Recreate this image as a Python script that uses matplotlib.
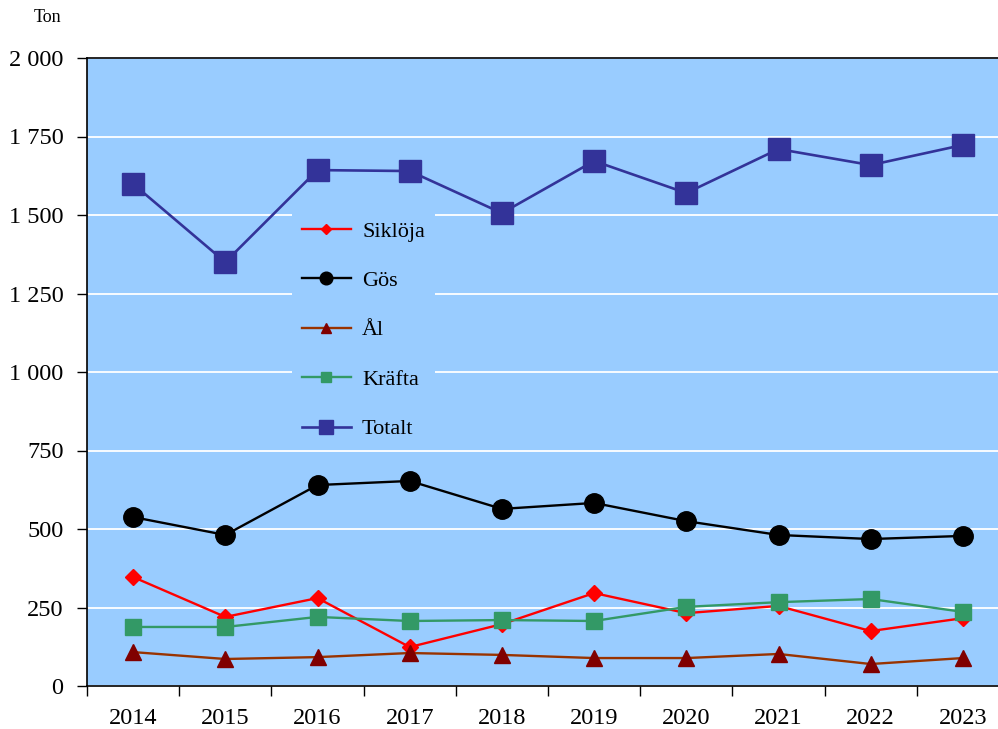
import matplotlib
matplotlib.use("Agg")
import matplotlib.pyplot as plt
import numpy as np

years = ["2014", "2015", "2016", "2017", "2018", "2019", "2020", "2021", "2022", "2023"]
sikloja = [347, 220, 280, 124, 197, 296, 232, 255, 175, 216]
gos = [538, 481, 640, 653, 564, 583, 525, 481, 468, 478]
al = [108, 86, 92, 105, 99, 89, 89, 102, 70, 89]
krafta = [188, 188, 220, 207, 210, 207, 252, 267, 277, 236]
totalt = [1599, 1350, 1643, 1640, 1506, 1672, 1570, 1710, 1659, 1723]
yticks = [0, 250, 500, 750, 1000, 1250, 1500, 1750, 2000]
ytick_labels = ["0", "250", "500", "750", "1 000", "1 250", "1 500", "1 750", "2 000"]

plt.rcParams["font.family"] = ["Liberation Serif", "DejaVu Serif"]

fig = plt.figure(figsize=(9.98, 7.29), dpi=100)
ax = fig.add_axes([87 / 998, 1 - 686 / 729, 922 / 998, (686 - 58) / 729])
ax.set_facecolor("#99CCFF")

x = np.arange(len(years))

series = [
    ("Siklöja", sikloja, dict(color="#FF0000", marker="D", ms=8, lw=1.7, mfc="#FF0000", mec="#FF0000")),
    ("Gös", gos, dict(color="#000000", marker="o", ms=14, lw=1.7, mfc="#000000", mec="#000000")),
    ("Ål", al, dict(color="#993300", marker="^", ms=12, lw=1.7, mfc="#800000", mec="#800000")),
    ("Kräfta", krafta, dict(color="#339966", marker="s", ms=12, lw=1.7, mfc="#339966", mec="#339966")),
    ("Totalt", totalt, dict(color="#333399", marker="s", ms=16, lw=1.9, mfc="#333399", mec="#333399")),
]
for name, vals, st in series:
    ax.plot(x, vals, label=name, zorder=3, clip_on=False, **st)

ax.set_xlim(-0.5, len(years) - 0.5)
ax.set_ylim(0, 2000)
ax.set_yticks(yticks)
ax.set_yticklabels(ytick_labels, fontsize=17.5)
ax.set_xticks(x)
ax.set_xticklabels(years, fontsize=17.5)
ax.set_xticks(np.arange(-0.5, len(years), 1.0), minor=True)
ax.tick_params(axis="x", which="major", length=0, pad=16)
ax.tick_params(axis="x", which="minor", length=7, width=1, direction="out")
ax.tick_params(axis="y", length=7, width=1, direction="out", pad=10)
ax.yaxis.grid(True, color="white", lw=1.3, zorder=1)
ax.set_axisbelow(True)
for s in ["left", "bottom", "top"]:
    ax.spines[s].set_color("#000000")
    ax.spines[s].set_linewidth(1.2)
ax.spines["right"].set_visible(False)

leg = ax.legend(loc="upper left", bbox_to_anchor=(292 / 998, 1 - 211 / 729),
                bbox_transform=fig.transFigure, borderaxespad=0, frameon=True,
                fancybox=False, facecolor="#99CCFF", edgecolor="none", framealpha=1,
                fontsize=16, labelspacing=1.3, handlelength=2.2, handletextpad=0.5,
                borderpad=0.45, markerscale=0.65)
leg.set_zorder(5)

fig.text(48 / 998, 1 - 17 / 729, "Ton", fontsize=13, ha="center", va="center")

fig.savefig("out.png", dpi=100)
